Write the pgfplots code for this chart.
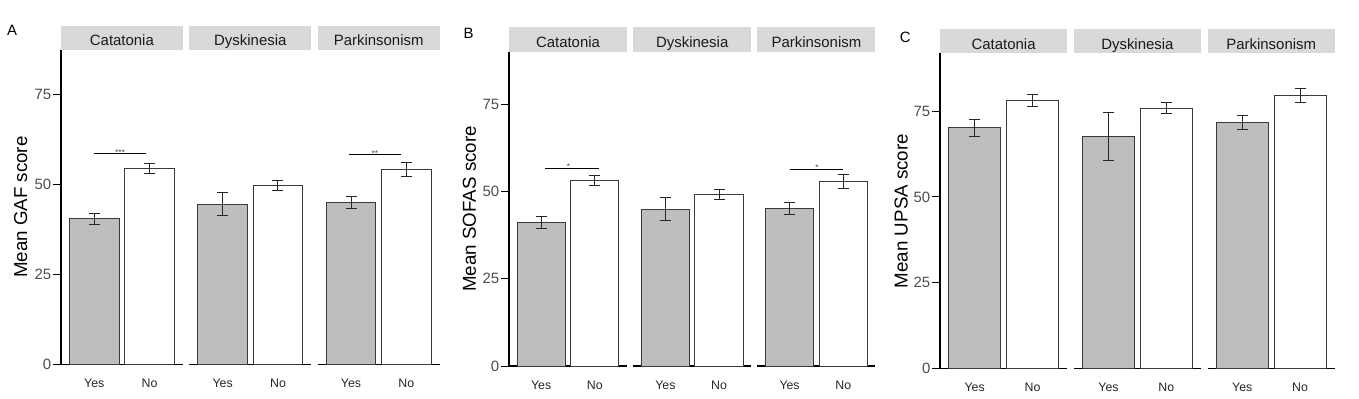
\documentclass[border=0pt]{standalone}
\usepackage{pgfplots}
\pgfplotsset{compat=1.18}
\usepackage{fontspec}
\setmainfont{Liberation Sans}
\definecolor{stripgray}{HTML}{D9D9D9}
\definecolor{bargray}{HTML}{BEBEBE}
\definecolor{outl}{HTML}{3A3A3A}
\definecolor{tickgray}{HTML}{4D4D4D}
\definecolor{txt}{HTML}{1A1A1A}
\definecolor{xtickc}{HTML}{262626}
\definecolor{errc}{HTML}{262626}

\pgfplotsset{
  facet/.style={
    scale only axis, clip=false, anchor=south west,
    xmin=0.4, xmax=2.6, ymin=0,
    xtick={1,2}, xticklabels={Yes,No},
    xtick style={draw=none},
    axis x line*=bottom,
    x axis line style={-, line width=1.5bp, black},
    y axis line style={-, line width=1.5bp, black},
    xticklabel style={font=\fontsize{12.4}{14}\selectfont, text=xtickc, anchor=north, inner sep=0pt, yshift=-6.5bp},
    yticklabel style={font=\fontsize{15}{18}\selectfont, text=tickgray, anchor=east, inner sep=0pt, xshift=-1.5bp},
    /pgf/number format/assume math mode=true,
    tick align=outside,
    major tick length=8bp,
    ytick style={line width=1bp, draw=black},
  },
  firstfacet/.style={axis y line*=left, ytick={0,25,50,75}},
  otherfacet/.style={axis y line=none, ytick=\empty},
  yesbar/.style={ybar, bar width=0.9, bar shift=0pt, fill=bargray, draw=outl, line width=1bp,
    error bars/.cd, y dir=both, y explicit, error bar style={line width=1bp, draw=errc},
    error mark options={rotate=90, line width=1bp, mark size=5.5bp, draw=errc}},
  nobar/.style={ybar, bar width=0.9, bar shift=0pt, fill=white, draw=outl, line width=1bp,
    error bars/.cd, y dir=both, y explicit, error bar style={line width=1bp, draw=errc},
    error mark options={rotate=90, line width=1bp, mark size=5.5bp, draw=errc}},
  sigline/.style={black, line width=1bp, no marks},
}
\tikzset{
  sigtext/.style={anchor=base, inner sep=0pt, font=\fontsize{8.5}{10}\selectfont, text=tickgray, yshift=-1.5bp},
  striptext/.style={anchor=base, inner sep=0pt, font=\fontsize{15}{18}\selectfont, text=txt},
}
% strip: x0, width, axis top (px from top), label
\newcommand{\strip}[4]{%
  \fill[stripgray] (#1bp,-#3bp) rectangle ({#1bp+#2bp},{-#3bp+24.3bp});
  \node[striptext] at ({#1bp+#2bp/2},{-#3bp+4.3bp}) {#4};
}

\begin{document}
\begin{tikzpicture}
\path[use as bounding box] (0,0) rectangle (1359bp,-399bp);

% ================= Panel A =================
\node[font=\fontsize{15}{17}\selectfont, text=black] at (12bp,-30bp) {A};
\node[rotate=90, font=\fontsize{18.8}{22}\selectfont, text=black] at (20.8bp,-207.2bp) {Mean GAF score};
\strip{61}{121.8}{50}{Catatonia}
\strip{189.4}{121.8}{50}{Dyskinesia}
\strip{317.8}{121.8}{50}{Parkinsonism}

\begin{axis}[facet, firstfacet, at={(61bp,-364.3bp)}, width=121.8bp, height=314.3bp, ymax=87.5]
\addplot[yesbar] coordinates {(1,40.5) +- (0,1.6)};
\addplot[nobar] coordinates {(2,54.5) +- (0,1.5)};
\addplot[sigline] coordinates {(1,58.6) (1.93,58.6)};
\node[sigtext] at (axis cs:1.465,58.6) {***};
\end{axis}
\begin{axis}[facet, otherfacet, at={(189.4bp,-364.3bp)}, width=121.8bp, height=314.3bp, ymax=87.5]
\addplot[yesbar] coordinates {(1,44.6) +- (0,3.2)};
\addplot[nobar] coordinates {(2,49.8) +- (0,1.4)};
\end{axis}
\begin{axis}[facet, otherfacet, at={(317.8bp,-364.3bp)}, width=121.8bp, height=314.3bp, ymax=87.5]
\addplot[yesbar] coordinates {(1,45.0) +- (0,1.7)};
\addplot[nobar] coordinates {(2,54.3) +- (0,2.0)};
\addplot[sigline] coordinates {(0.96,58.3) (1.9,58.3)};
\node[sigtext] at (axis cs:1.43,58.3) {**};
\end{axis}

% ================= Panel B =================
\node[font=\fontsize{15}{17}\selectfont, text=black] at (468.7bp,-33.3bp) {B};
\node[rotate=90, font=\fontsize{18.8}{22}\selectfont, text=black] at (469.5bp,-208.9bp) {Mean SOFAS score};
\strip{509}{118}{51.7}{Catatonia}
\strip{633.2}{118}{51.7}{Dyskinesia}
\strip{757.4}{118}{51.7}{Parkinsonism}

\begin{axis}[facet, firstfacet, at={(509bp,-366bp)}, width=118bp, height=314.3bp, ymax=90.1]
\addplot[yesbar] coordinates {(1,41.2) +- (0,1.65)};
\addplot[nobar] coordinates {(2,53.2) +- (0,1.55)};
\addplot[sigline] coordinates {(1.08,56.7) (2.07,56.7)};
\node[sigtext] at (axis cs:1.51,56.7) {*};
\end{axis}
\begin{axis}[facet, otherfacet, at={(633.2bp,-366bp)}, width=118bp, height=314.3bp, ymax=90.1]
\addplot[yesbar] coordinates {(1,44.9) +- (0,3.3)};
\addplot[nobar] coordinates {(2,49.2) +- (0,1.35)};
\end{axis}
\begin{axis}[facet, otherfacet, at={(757.4bp,-366bp)}, width=118bp, height=314.3bp, ymax=90.1]
\addplot[yesbar] coordinates {(1,45.1) +- (0,1.65)};
\addplot[nobar] coordinates {(2,53.0) +- (0,2.0)};
\addplot[sigline] coordinates {(1.0,56.4) (2.0,56.4)};
\node[sigtext] at (axis cs:1.51,56.4) {*};
\end{axis}

% ================= Panel C =================
\node[font=\fontsize{15}{17}\selectfont, text=black] at (905.3bp,-37bp) {C};
\node[rotate=90, font=\fontsize{18.8}{22}\selectfont, text=black] at (901.2bp,-211bp) {Mean UPSA score};
\strip{940}{127.2}{53.3}{Catatonia}
\strip{1073.8}{127.2}{53.3}{Dyskinesia}
\strip{1207.6}{127.2}{53.3}{Parkinsonism}

\begin{axis}[facet, firstfacet, at={(940bp,-368.7bp)}, width=127.2bp, height=315.4bp, ymax=91.8]
\addplot[yesbar] coordinates {(1,70.1) +- (0,2.4)};
\addplot[nobar] coordinates {(2,78.1) +- (0,1.75)};
\end{axis}
\begin{axis}[facet, otherfacet, at={(1073.8bp,-368.7bp)}, width=127.2bp, height=315.4bp, ymax=91.8]
\addplot[yesbar] coordinates {(1,67.6) +- (0,7.0)};
\addplot[nobar] coordinates {(2,75.8) +- (0,1.55)};
\end{axis}
\begin{axis}[facet, otherfacet, at={(1207.6bp,-368.7bp)}, width=127.2bp, height=315.4bp, ymax=91.8]
\addplot[yesbar] coordinates {(1,71.7) +- (0,1.95)};
\addplot[nobar] coordinates {(2,79.4) +- (0,2.05)};
\end{axis}

\end{tikzpicture}
\end{document}
